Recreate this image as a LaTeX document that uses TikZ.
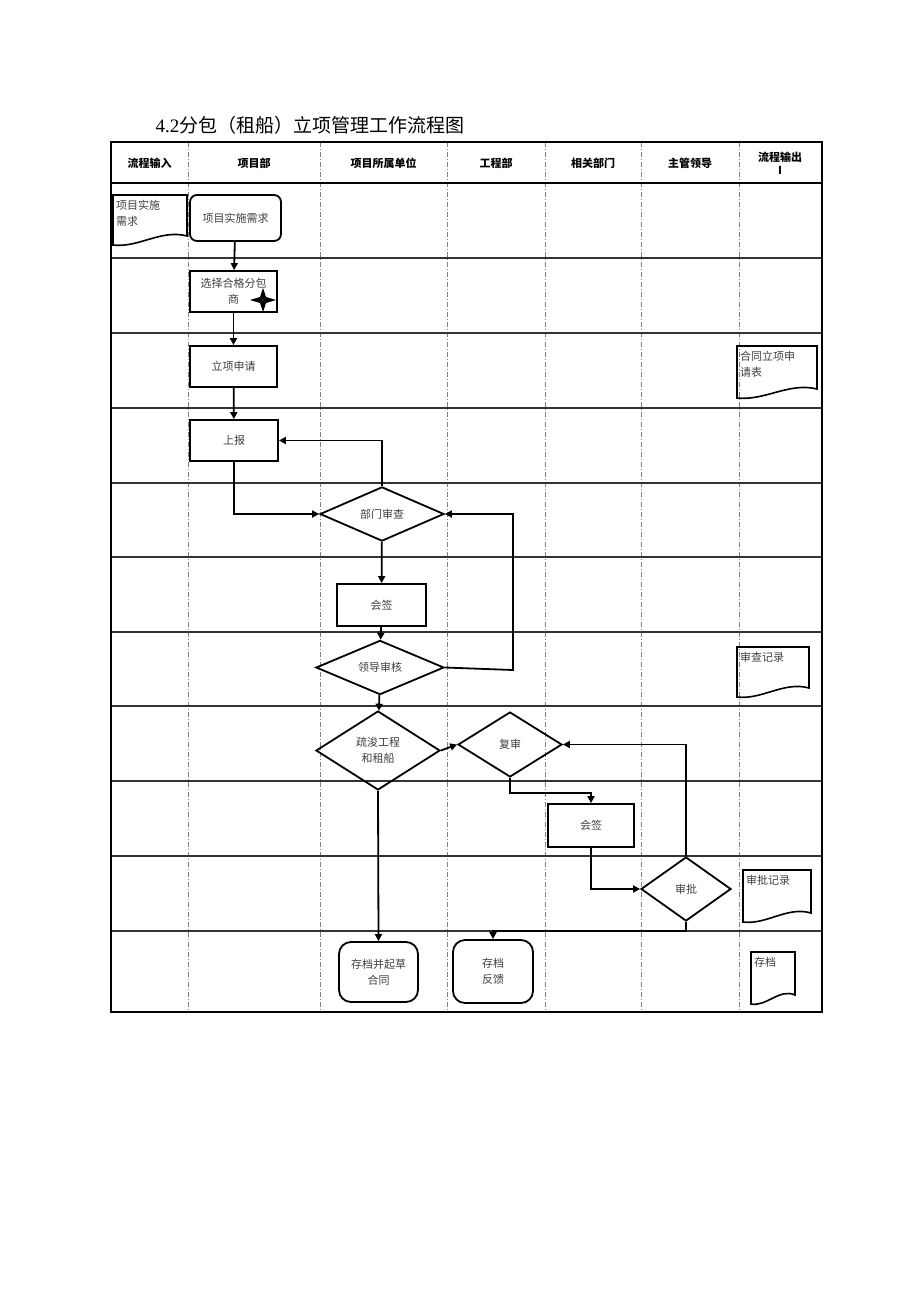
\documentclass[tikz,border=0pt]{standalone}
\usepackage{fontspec}
\setmainfont{Liberation Serif}
\newfontfamily\cjk{Noto Sans CJK SC}
\usetikzlibrary{shapes.geometric,arrows.meta}
\begin{document}
\begin{tikzpicture}[x=1pt,y=-1pt,
  box/.style={draw,line width=1.8pt,inner sep=1pt,align=center,font=\cjk\fontsize{11}{16}\selectfont,text=black!75},
  dia/.style={draw,line width=1.8pt,diamond,inner sep=0pt,align=center,font=\cjk\fontsize{11}{16}\selectfont,text=black!75},
  doctext/.style={inner sep=1pt,align=left,font=\cjk\fontsize{11}{16}\selectfont,text=black!75},
  hdr/.style={font=\cjk\bfseries\fontsize{11}{13}\selectfont,align=center},
  flow/.style={line width=1.8pt,-{Triangle[length=7pt,width=7pt]}},
  line/.style={line width=1.8pt},
  dcol/.style={gray,line width=0.8pt,dash pattern=on 5pt off 2pt on 1pt off 2pt}]
\useasboundingbox (0,0) rectangle (920,1301);
\fill[white] (0,0) rectangle (920,1301);
\node[anchor=west,font=\cjk\fontsize{19}{22}\selectfont] (title) at (152,125) {{\rmfamily 4.2}分包（租船）立项管理工作流程图};
% columns
\foreach \x in {188,320,447,545,641,739} \draw[dcol] (\x,142) -- (\x,1012);
% rows
\foreach \y in {258,333,408,483,557,632,706,781,856,931} \draw[line width=1.6pt,black!80] (111,\y) -- (822,\y);
\draw[line width=2.4pt] (111,183) -- (822,183);
\draw[line width=1.8pt] (111,142) rectangle (822,1012);
% headers
\node[hdr] (h1) at (149.5,163) {流程输入};
\node[hdr] (h2) at (254,163) {项目部};
\node[hdr] (h3) at (383.5,163) {项目所属单位};
\node[hdr] (h4) at (496,163) {工程部};
\node[hdr] (h5) at (593,163) {相关部门};
\node[hdr] (h6) at (690,163) {主管领导};
\node[hdr] (h7) at (780,163) {流程输出\\I};
% documents
\newcommand{\mydoc}[6]{%
  \draw[line width=1.6pt] (#1,#2) -- (#3,#2) -- (#3,#4-9) .. controls ({#3-0.35*(#3-#1)},#4-16) and ({#1+0.35*(#3-#1)},#4+3) .. (#1,#4) -- cycle;
  \node[doctext,anchor=north west] (#5) at (#1+2,#2+4) {#6};}
\mydoc{113}{195}{187}{245}{doca}{项目实施\\需求}
\mydoc{737}{346}{817}{398}{docb}{合同立项申\\请表}
\mydoc{737}{647}{809}{697}{docc}{审查记录}
\mydoc{743}{870}{811}{922}{docd}{审批记录}
\mydoc{751}{952}{795}{1004}{doce}{存档}
% process
\node[box,rounded corners=7pt,minimum width=91pt,minimum height=46pt] (n1) at (235.5,218) {项目实施需求};
\node[box,minimum width=87pt,minimum height=41pt] (n2) at (233.5,291.5) {选择合格分包\\商\hspace{2em}};
\fill (263,300) -- (266,297) -- (276,300) -- (266,303) -- cycle;
\fill (263,300) -- (260,297) -- (250,300) -- (260,303) -- cycle;
\fill (263,300) -- (266,297) -- (263,288) -- (260,297) -- cycle;
\fill (263,300) -- (266,303) -- (263,312) -- (260,303) -- cycle;
\node[box,minimum width=87pt,minimum height=41pt] (n3) at (233.5,366.5) {立项申请};
\node[box,minimum width=88pt,minimum height=41pt] (n4) at (234,440.5) {上报};
\node[dia,minimum width=124pt,minimum height=54pt] (d1) at (382,514) {部门审查};
\node[box,minimum width=89pt,minimum height=42pt] (n5) at (381.5,605) {会签};
\node[dia,minimum width=128pt,minimum height=37pt] (d2) at (380,667.5) {领导审核};
\node[dia,minimum width=124pt,minimum height=79pt] (d3) at (378,750.5) {疏浚工程\\和租船};
\node[dia,minimum width=104pt,minimum height=65pt] (d4) at (510,744.5) {复审};
\node[box,minimum width=86pt,minimum height=43pt] (n6) at (591,825.5) {会签};
\node[dia,minimum width=90pt,minimum height=64pt] (d5) at (686,889) {审批};
\node[box,rounded corners=12pt,minimum width=79pt,minimum height=60pt] (e1) at (378.5,972) {存档并起草\\合同};
\node[box,rounded corners=12pt,minimum width=80pt,minimum height=63pt] (e2) at (493,971.5) {存档\\反馈};
% connectors
\draw[flow] (n1) -- (n2);
\draw[flow] (n2) -- (n3);
\draw[flow] (n3) -- (n4);
\draw[flow] (n4.south) |- (d1.west);
\draw[flow] (d1.north) |- (n4.east);
\draw[flow] (d1) -- (n5);
\draw[flow] (n5) -- (d2);
\coordinate (c1) at (513,670);
\draw[flow] (d2.east) -- (c1) |- (d1.east);
\draw[flow] (d2) -- (d3);
\draw[flow] (d3.east) -- (d4.west);
\coordinate (c2) at (510,793);
\draw[flow] (d4.south) -- (c2) -| (n6.north);
\draw[flow] (n6.south) |- (d5.west);
\draw[flow] (d5.north) |- (d4.east);
\draw[flow] (d3.south) -- (e1.north);
\coordinate (c3) at (686,931);
\draw[flow] (d5.south) -- (c3) -| (e2.north);
\end{tikzpicture}
\end{document}
